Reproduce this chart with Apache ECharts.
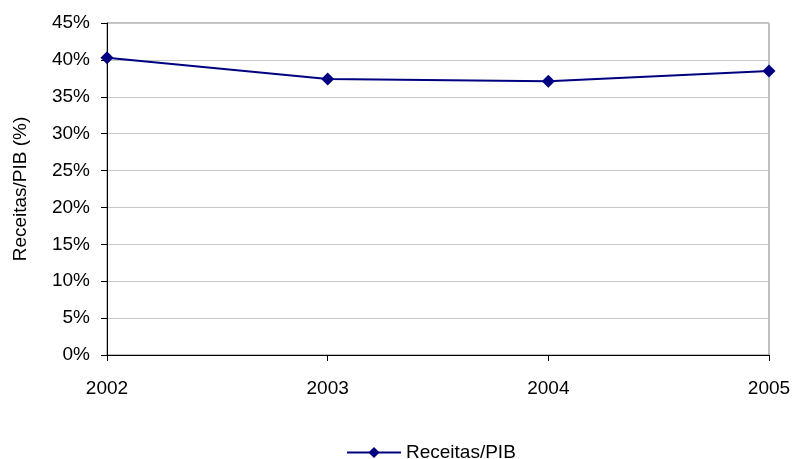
<!DOCTYPE html>
<html>
<head>
<meta charset="utf-8">
<script src="https://cdn.jsdelivr.net/npm/echarts@6/dist/echarts.min.js"></script>
<style>
  html, body { margin: 0; padding: 0; background: #fff; }
  #chart { width: 795px; height: 459px; }
</style>
</head>
<body>
<div id="chart"></div>
<script>
// Receitas em percentagem do PIB, 2002-2005
const years = ['2002', '2003', '2004', '2005'];
const receitasPib = [40.3, 37.4, 37.1, 38.5];
const seriesName = 'Receitas/PIB';
const axisTitle = 'Receitas/PIB (%)';

const font = 'Liberation Sans, Arial, sans-serif';
const chart = echarts.init(document.getElementById('chart'));

chart.setOption({
  animation: false,
  backgroundColor: '#fff',
  grid: {
    left: 107, right: 26, top: 23, bottom: 104,
    outerBoundsMode: 'none',
    show: true, borderColor: '#808080', borderWidth: 1
  },
  legend: {
    left: 346, top: 443, padding: 0,
    itemWidth: 54, itemHeight: 14, itemGap: 7,
    textStyle: { fontFamily: font, fontSize: 19, color: '#000' },
    data: [seriesName]
  },
  xAxis: {
    type: 'category',
    data: years,
    boundaryGap: false,
    axisLine: { lineStyle: { color: '#000', width: 1 } },
    axisTick: { show: true, length: 6, lineStyle: { color: '#000' } },
    axisLabel: { fontFamily: font, fontSize: 19, color: '#000', margin: 24 },
    splitLine: { show: false }
  },
  yAxis: {
    type: 'value',
    min: 0, max: 45, interval: 5,
    name: axisTitle,
    nameLocation: 'middle',
    nameGap: 77,
    nameTextStyle: { fontFamily: font, fontSize: 19, color: '#000' },
    axisLine: { show: true, lineStyle: { color: '#000', width: 1 } },
    axisTick: { show: true, length: 6, lineStyle: { color: '#000' } },
    axisLabel: { fontFamily: font, fontSize: 19, color: '#000', margin: 17,
                 formatter: v => v + '%' },
    splitLine: { show: true, lineStyle: { color: '#c8c8c8', width: 1 } }
  },
  series: [{
    name: seriesName,
    type: 'line',
    data: receitasPib,
    symbol: 'diamond',
    symbolSize: 13,
    itemStyle: { color: '#000080' },
    lineStyle: { color: '#000080', width: 2 }
  }]
});
</script>
</body>
</html>
